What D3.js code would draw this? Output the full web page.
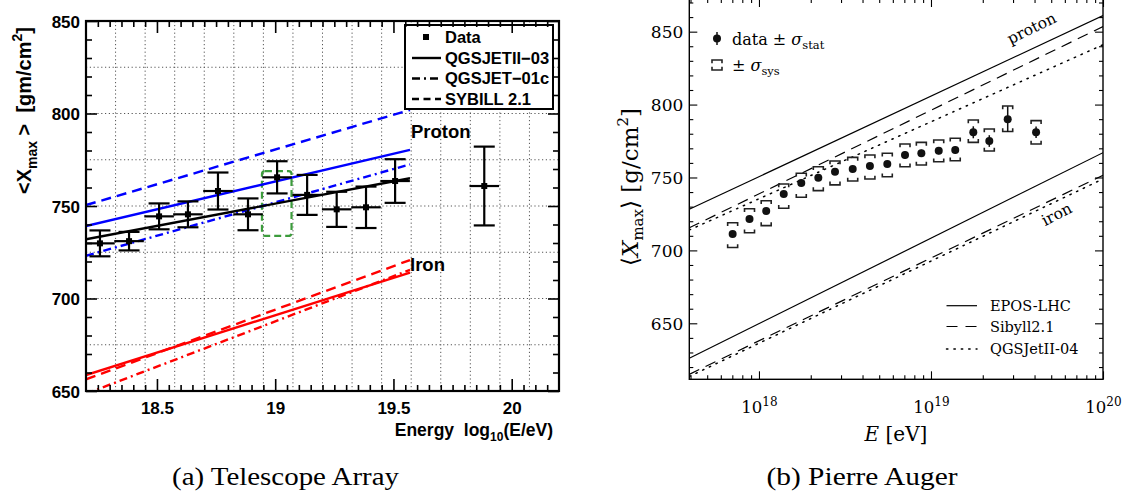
<!DOCTYPE html>
<html><head><meta charset="utf-8">
<script src="https://cdn.jsdelivr.net/npm/d3@7"></script>
<style>body{margin:0;background:#fff} text{white-space:pre}</style>
</head><body>
<svg id="c" width="1130" height="499" xmlns="http://www.w3.org/2000/svg"></svg>
<script>
// ---------------- DATA: (a) Telescope Array ----------------
const taLogE = [18.259, 18.382, 18.509, 18.631, 18.758, 18.885, 19.008, 19.135, 19.26, 19.384, 19.507, 19.884];
const taXmax = [729.8, 731, 744.4, 745.5, 758.1, 745.5, 765.5, 756, 748.2, 749.3, 763.5, 760.8];
const taErr  = [7, 5, 7, 7, 10, 8.6, 8.7, 10.8, 9.5, 11.2, 11.8, 21.3];
const taBinHalf = 0.0625;
const taModelE = [18.2, 19.57];
const taProtonQII = [739.2, 780.3];
const taProtonQ01 = [723.1, 772.5];
const taProtonSib = [750.5, 801.9];
const taIronQII = [658.6, 714];
const taIronQ01 = [648.5, 715.5];
const taIronSib = [656.3, 720.8];
const taFit = [732, 765];
const taBoxE = [18.944, 19.069];
const taBoxX = [733.8, 768.9];
const taXTicks = [18.5, 19, 19.5, 20];
const taYTicks = [650, 700, 750, 800, 850];
const taYGrid = [675, 700, 725, 750, 775, 800, 825];
const taLegend = ["Data", "QGSJETII\u221203", "QGSJET\u221201c", "SYBILL 2.1"];

// ---------------- DATA: (b) Pierre Auger ----------------
const augerLogE = [17.847, 17.945, 18.042, 18.144, 18.246, 18.345, 18.442, 18.545, 18.645, 18.746, 18.849, 18.944, 19.045, 19.141, 19.246, 19.339, 19.446, 19.611];
const augerXmax = [711.2, 721.5, 727, 738.7, 746.2, 749.9, 754, 755.8, 757.9, 759.3, 765.4, 766.6, 768.4, 768.9, 781, 775, 790, 781];
const augerStat = [2, 2, 2, 2, 2, 2, 2, 2, 2, 2, 2.5, 2.5, 2.5, 2.5, 4.1, 4, 8.8, 4];
const augerSysTop = [719, 728.6, 734, 745.5, 752.9, 757.4, 761.3, 763.8, 765.4, 766.6, 773, 774.1, 775.7, 776.9, 789.4, 783.3, 799, 789];
const augerSysBot = [702, 712.1, 717, 728.9, 736.4, 741, 744.9, 747.6, 749, 750.5, 757.4, 758.6, 760.8, 761.5, 774.1, 768.2, 781.5, 773];
const augerModelLogE = [17.595, 20];
const protonEPOS = [728.2, 861];
const protonSibyll = [715.5, 853.5];
const protonQGS = [714, 841];
const ironEPOS = [626, 767];
const ironSibyll = [615, 751.5];
const ironQGS = [613.5, 749];
const augerYTicks = [650, 700, 750, 800, 850];
const augerXTicks = [18, 19, 20];
const augerLegend = ["EPOS-LHC", "Sibyll2.1", "QGSJetII-04"];

// ---------------- DRAWING ----------------
const svg = d3.select("#c");
const defs = svg.append("defs");
const SANS = "'Liberation Sans', Arial, sans-serif";
const SERIF = "'DejaVu Serif', serif";
const CAP = "'Liberation Serif', serif";

// ===== Panel (a) =====
const xL = d3.scaleLinear().domain([18.2, 20.2]).range([86, 559]);
const yL = d3.scaleLinear().domain([650, 850]).range([391, 21]);
defs.append("clipPath").attr("id", "clipL").append("rect")
  .attr("x", xL(18.2)).attr("y", yL(850)).attr("width", xL(20.2) - xL(18.2)).attr("height", yL(650) - yL(850));
const gA = svg.append("g");

// grid
const gridX = d3.range(18.325, 20.1, 0.125);
gA.append("g").selectAll("line").data(gridX).join("line")
  .attr("x1", d => xL(d)).attr("x2", d => xL(d)).attr("y1", yL(650)).attr("y2", yL(850))
  .attr("stroke", "#555").attr("stroke-width", 1).attr("stroke-dasharray", "1.2,2.6");
gA.append("g").selectAll("line").data(taYGrid).join("line")
  .attr("y1", d => yL(d)).attr("y2", d => yL(d)).attr("x1", xL(18.2)).attr("x2", xL(20.2))
  .attr("stroke", "#555").attr("stroke-width", 1).attr("stroke-dasharray", "1.2,2.6");

// green box
gA.append("rect").attr("x", xL(taBoxE[0])).attr("y", yL(taBoxX[1]))
  .attr("width", xL(taBoxE[1]) - xL(taBoxE[0])).attr("height", yL(taBoxX[0]) - yL(taBoxX[1]))
  .attr("rx", 3).attr("fill", "none").attr("stroke", "#3c9c3c").attr("stroke-width", 2.2).attr("stroke-dasharray", "7,4");

const lineL = d3.line().x(d => xL(d[0])).y(d => yL(d[1]));
const dashes = {solid: null, dashdot: "8,4,2,4", dashed: "10,6"};
const modelsL = [
  [taProtonQII, "#0000ff", "solid"], [taProtonQ01, "#0000ff", "dashdot"], [taProtonSib, "#0000ff", "dashed"],
  [taIronQII, "#ff0000", "solid"], [taIronQ01, "#ff0000", "dashdot"], [taIronSib, "#ff0000", "dashed"],
  [taFit, "#000", "solid"]
];
const gLines = gA.append("g").attr("clip-path", "url(#clipL)");
modelsL.forEach(([vals, col, sty]) => {
  gLines.append("path").datum(taModelE.map((e, i) => [e, vals[i]]))
    .attr("d", lineL).attr("fill", "none").attr("stroke", col).attr("stroke-width", 2.4)
    .attr("stroke-dasharray", dashes[sty]);
});

// data points
const taPts = taLogE.map((e, i) => ({e, v: taXmax[i], s: taErr[i]}));
const gPts = gA.append("g").attr("stroke", "#000").attr("stroke-width", 2.2);
gPts.selectAll(".v").data(taPts).join("line")
  .attr("x1", d => xL(d.e)).attr("x2", d => xL(d.e)).attr("y1", d => yL(d.v - d.s)).attr("y2", d => yL(d.v + d.s));
gPts.selectAll(".h").data(taPts).join("line")
  .attr("x1", d => xL(d.e - taBinHalf)).attr("x2", d => xL(d.e + taBinHalf)).attr("y1", d => yL(d.v)).attr("y2", d => yL(d.v));
gPts.selectAll(".ct").data(taPts).join("line")
  .attr("x1", d => xL(d.e) - 10.5).attr("x2", d => xL(d.e) + 10.5).attr("y1", d => yL(d.v + d.s)).attr("y2", d => yL(d.v + d.s));
gPts.selectAll(".cb").data(taPts).join("line")
  .attr("x1", d => xL(d.e) - 10.5).attr("x2", d => xL(d.e) + 10.5).attr("y1", d => yL(d.v - d.s)).attr("y2", d => yL(d.v - d.s));
gA.append("g").selectAll("rect").data(taPts).join("rect")
  .attr("x", d => xL(d.e) - 3).attr("y", d => yL(d.v) - 3).attr("width", 6).attr("height", 6).attr("fill", "#000");

// legend
const lg = gA.append("g");
lg.append("rect").attr("x", 405).attr("y", 25).attr("width", 148).attr("height", 84)
  .attr("fill", "#fff").attr("stroke", "#000").attr("stroke-width", 2);
const legY = [37, 58, 78.5, 99];
lg.append("rect").attr("x", 423).attr("y", legY[0] - 3).attr("width", 6).attr("height", 6).attr("fill", "#000");
["solid", "dashdot", "dashed"].forEach((s, i) => {
  lg.append("line").attr("x1", 412).attr("x2", 441).attr("y1", legY[i + 1]).attr("y2", legY[i + 1])
    .attr("stroke", "#000").attr("stroke-width", 2.4).attr("stroke-dasharray", s === "dashed" ? "7,4.5" : dashes[s]);
});
lg.selectAll("text").data(taLegend).join("text")
  .attr("x", 445).attr("y", (d, i) => legY[i]).attr("dy", "0.36em")
  .attr("font-family", SANS).attr("font-weight", "bold").attr("font-size", 16.5).text(d => d);

// frame & ticks
function styleAxis(g) { g.select(".domain").remove(); g.selectAll(".tick line").attr("stroke", "#000").attr("stroke-width", 1.6); }
const minorXL = d3.range(18.25, 20.2, 0.05).filter(v => Math.abs(v * 2 - Math.round(v * 2)) > 1e-6);
const minorYL = d3.range(660, 850, 10).filter(v => v % 50 !== 0);
gA.append("g").attr("transform", `translate(0,${yL(650)})`)
  .call(d3.axisBottom(xL).tickValues(taXTicks).tickSize(-12).tickPadding(11).tickFormat(d3.format("")))
  .call(styleAxis).call(g => g.selectAll("text").attr("font-family", SANS).attr("font-weight", "bold").attr("font-size", 17).attr("fill", "#000"));
gA.append("g").attr("transform", `translate(0,${yL(650)})`)
  .call(d3.axisBottom(xL).tickValues(minorXL).tickSize(-6).tickFormat("")).call(styleAxis);
gA.append("g").attr("transform", `translate(0,${yL(850)})`)
  .call(d3.axisTop(xL).tickValues(taXTicks).tickSize(-12).tickFormat("")).call(styleAxis);
gA.append("g").attr("transform", `translate(0,${yL(850)})`)
  .call(d3.axisTop(xL).tickValues(minorXL).tickSize(-6).tickFormat("")).call(styleAxis);
gA.append("g").attr("transform", `translate(${xL(18.2)},0)`)
  .call(d3.axisLeft(yL).tickValues(taYTicks).tickSize(-11).tickPadding(6).tickFormat(d3.format("")))
  .call(styleAxis).call(g => g.selectAll("text").attr("font-family", SANS).attr("font-weight", "bold").attr("font-size", 17).attr("fill", "#000").attr("dy", "0.36em"));
gA.append("g").attr("transform", `translate(${xL(18.2)},0)`)
  .call(d3.axisLeft(yL).tickValues(minorYL).tickSize(-6).tickFormat("")).call(styleAxis);
gA.append("g").attr("transform", `translate(${xL(20.2)},0)`)
  .call(d3.axisRight(yL).tickValues(taYTicks).tickSize(-11).tickFormat("")).call(styleAxis);
gA.append("g").attr("transform", `translate(${xL(20.2)},0)`)
  .call(d3.axisRight(yL).tickValues(minorYL).tickSize(-6).tickFormat("")).call(styleAxis);
gA.append("rect").attr("x", xL(18.2)).attr("y", yL(850)).attr("width", xL(20.2) - xL(18.2)).attr("height", yL(650) - yL(850))
  .attr("fill", "none").attr("stroke", "#000").attr("stroke-width", 2.2);

// labels
gA.append("text").attr("x", xL(19.57) + 1).attr("y", 137.5).attr("font-family", SANS).attr("font-weight", "bold").attr("font-size", 18.5).text("Proton");
gA.append("text").attr("x", xL(19.57)).attr("y", 270.5).attr("font-family", SANS).attr("font-weight", "bold").attr("font-size", 18.5).text("Iron");
const xt = gA.append("text").attr("x", 553).attr("y", 436).attr("text-anchor", "end")
  .attr("font-family", SANS).attr("font-weight", "bold").attr("font-size", 17.5);
xt.append("tspan").text("Energy  log");
xt.append("tspan").attr("font-size", 12).attr("dy", 5).text("10");
xt.append("tspan").attr("dy", -5).text("(E/eV)");
const yt = gA.append("text").attr("transform", "translate(31,27) rotate(-90)").attr("text-anchor", "end")
  .attr("font-family", SANS).attr("font-weight", "bold").attr("font-size", 20);
yt.append("tspan").text("<X");
yt.append("tspan").attr("font-size", 14).attr("dy", 6).text("max");
yt.append("tspan").attr("dy", -6).text(" >  [gm/cm");
yt.append("tspan").attr("font-size", 14).attr("dy", -9).text("2");
yt.append("tspan").attr("dy", 9).text("]");

// caption
svg.append("text").attr("x", 285.5).attr("y", 485).attr("text-anchor", "middle")
  .attr("font-family", CAP).attr("font-size", 25).attr("textLength", 227).attr("lengthAdjust", "spacingAndGlyphs")
  .text("(a) Telescope Array");

// ===== Panel (b) =====
const xR = d3.scaleLog().domain([Math.pow(10, 17.595), 1e20]).range([689.3, 1103]);
const yR = d3.scaleLinear().domain([611.6, 872.4]).range([379.3, -1]);
defs.append("clipPath").attr("id", "clipR").append("rect")
  .attr("x", 689.3).attr("y", -1).attr("width", 1103 - 689.3).attr("height", 380.3);
const gB = svg.append("g");
const lineR = d3.line().x(d => xR(Math.pow(10, d[0]))).y(d => yR(d[1]));
const dashR = {solid: null, dashed: "11,7", dotted: "1.4,6"};
const modelsR = [
  [protonEPOS, "solid"], [protonSibyll, "dashed"], [protonQGS, "dotted"],
  [ironEPOS, "solid"], [ironSibyll, "dashed"], [ironQGS, "dotted"]
];
const gLR = gB.append("g").attr("clip-path", "url(#clipR)");
modelsR.forEach(([vals, sty]) => {
  gLR.append("path").datum(augerModelLogE.map((e, i) => [e, vals[i]]))
    .attr("d", lineR).attr("fill", "none").attr("stroke", "#000").attr("stroke-width", sty === "dotted" ? 1.5 : 1.2)
    .attr("stroke-dasharray", dashR[sty]).attr("stroke-linecap", sty === "dotted" ? "round" : "butt");
});

const aPts = augerLogE.map((e, i) => ({x: xR(Math.pow(10, e)), v: augerXmax[i], s: augerStat[i], t: augerSysTop[i], b: augerSysBot[i]}));
function bracket(x, yt, yb, w, h) {
  return `M${x - w},${yt + h}V${yt}H${x + w}V${yt + h}M${x - w},${yb - h}V${yb}H${x + w}V${yb - h}`;
}
gB.append("g").selectAll("path").data(aPts).join("path")
  .attr("d", d => bracket(d.x, yR(d.t), yR(d.b), 5, 3.3))
  .attr("fill", "none").attr("stroke", "#222").attr("stroke-width", 1.6);
gB.append("g").selectAll("line").data(aPts).join("line")
  .attr("x1", d => d.x).attr("x2", d => d.x).attr("y1", d => yR(d.v - d.s)).attr("y2", d => yR(d.v + d.s))
  .attr("stroke", "#111").attr("stroke-width", 1.5);
gB.append("g").selectAll("circle").data(aPts).join("circle")
  .attr("cx", d => d.x).attr("cy", d => yR(d.v)).attr("r", 4).attr("fill", "#111");

// axes (b)
function styleAxisR(g) { g.select(".domain").remove(); g.selectAll(".tick line").attr("stroke", "#000").attr("stroke-width", 1.1); }
const majorXR = augerXTicks.map(p => Math.pow(10, p));
const minorXR = [];
[17, 18, 19].forEach(p => { for (let m = 2; m <= 9; m++) { const v = m * Math.pow(10, p); if (v > xR.domain()[0]) minorXR.push(v); } });
const minorYR = d3.range(620, 872, 10).filter(v => v % 50 !== 0);
gB.append("g").attr("transform", "translate(0,379.3)")
  .call(d3.axisBottom(xR).tickValues(majorXR).tickSize(-8).tickPadding(22).tickFormat(""))
  .call(styleAxisR)
  .call(g => g.selectAll(".tick text").each(function(d) {
    const t = d3.select(this).attr("font-family", SERIF).attr("font-size", 16.5).attr("fill", "#000");
    t.append("tspan").text("10");
    t.append("tspan").attr("font-size", 12).attr("dy", "-0.55em").text(String(Math.round(Math.log10(d))));
  }));
gB.append("g").attr("transform", "translate(0,379.3)")
  .call(d3.axisBottom(xR).tickValues(minorXR).tickSize(-4).tickFormat("")).call(styleAxisR);
gB.append("g").attr("transform", "translate(0,-1)")
  .call(d3.axisTop(xR).tickValues(majorXR).tickSize(-8).tickFormat("")).call(styleAxisR);
gB.append("g").attr("transform", "translate(0,-1)")
  .call(d3.axisTop(xR).tickValues(minorXR).tickSize(-4).tickFormat("")).call(styleAxisR);
gB.append("g").attr("transform", "translate(689.3,0)")
  .call(d3.axisLeft(yR).tickValues(augerYTicks).tickSize(-8).tickPadding(6).tickFormat(d3.format("")))
  .call(styleAxisR).call(g => g.selectAll("text").attr("font-family", SERIF).attr("font-size", 17).attr("fill", "#000").attr("dy", "0.36em"));
gB.append("g").attr("transform", "translate(689.3,0)")
  .call(d3.axisLeft(yR).tickValues(minorYR).tickSize(-4).tickFormat("")).call(styleAxisR);
gB.append("g").attr("transform", "translate(1103,0)")
  .call(d3.axisRight(yR).tickValues(augerYTicks).tickSize(-8).tickFormat("")).call(styleAxisR);
gB.append("g").attr("transform", "translate(1103,0)")
  .call(d3.axisRight(yR).tickValues(minorYR).tickSize(-4).tickFormat("")).call(styleAxisR);
gB.append("rect").attr("x", 689.3).attr("y", -1).attr("width", 1103 - 689.3).attr("height", 380.3)
  .attr("fill", "none").attr("stroke", "#000").attr("stroke-width", 1.4);

// legends (b)
gB.append("circle").attr("cx", 717).attr("cy", 38.5).attr("r", 4).attr("fill", "#111");
gB.append("line").attr("x1", 717).attr("x2", 717).attr("y1", 32).attr("y2", 45).attr("stroke", "#111").attr("stroke-width", 1.5);
gB.append("path").attr("d", bracket(717, 60, 70, 5, 3.3)).attr("fill", "none").attr("stroke", "#222").attr("stroke-width", 1.6);
const l1 = gB.append("text").attr("x", 732).attr("y", 44.5).attr("font-family", SERIF).attr("font-size", 16);
l1.append("tspan").text("data \u00b1 ");
l1.append("tspan").attr("font-style", "italic").text("\u03c3");
l1.append("tspan").attr("font-size", 11.5).attr("dy", 4).text("stat");
const l2 = gB.append("text").attr("x", 732).attr("y", 70.5).attr("font-family", SERIF).attr("font-size", 16);
l2.append("tspan").text("\u00b1 ");
l2.append("tspan").attr("font-style", "italic").text("\u03c3");
l2.append("tspan").attr("font-size", 11.5).attr("dy", 4).text("sys");

const legYR = [305.7, 326.5, 349];
["solid", "dashed", "dotted"].forEach((s, i) => {
  gB.append("line").attr("x1", 946.5).attr("x2", 977).attr("y1", legYR[i]).attr("y2", legYR[i])
    .attr("stroke", "#000").attr("stroke-width", s === "dotted" ? 1.5 : 1.2)
    .attr("stroke-dasharray", s === "dashed" ? "11,8" : dashR[s]).attr("stroke-linecap", s === "dotted" ? "round" : "butt");
});
gB.selectAll(".lgt").data(augerLegend).join("text")
  .attr("x", 990).attr("y", (d, i) => legYR[i]).attr("dy", "0.36em")
  .attr("font-family", SERIF).attr("font-size", 14.5).text(d => d);

gB.append("text").attr("transform", "translate(1034,33) rotate(-26)").attr("text-anchor", "middle")
  .attr("font-family", SERIF).attr("font-size", 15.5).text("proton");
gB.append("text").attr("transform", "translate(1059,219) rotate(-27)").attr("text-anchor", "middle")
  .attr("font-family", SERIF).attr("font-size", 15.5).text("iron");

const xtR = gB.append("text").attr("x", 896).attr("y", 441).attr("text-anchor", "middle")
  .attr("font-family", SERIF).attr("font-size", 20);
xtR.append("tspan").attr("font-style", "italic").text("E");
xtR.append("tspan").text(" [eV]");
const ytR = gB.append("text").attr("transform", "translate(638,187) rotate(-90)").attr("text-anchor", "middle")
  .attr("font-family", SERIF).attr("font-size", 23);
ytR.append("tspan").text("\u27e8");
ytR.append("tspan").attr("font-style", "italic").text("X");
ytR.append("tspan").attr("font-size", 15).attr("dy", 5).text("max");
ytR.append("tspan").attr("dy", -5).text("\u27e9 [g/cm");
ytR.append("tspan").attr("font-size", 15).attr("dy", -10).text("2");
ytR.append("tspan").attr("dy", 10).text("]");

svg.append("text").attr("x", 862).attr("y", 485).attr("text-anchor", "middle")
  .attr("font-family", CAP).attr("font-size", 25).attr("textLength", 191).attr("lengthAdjust", "spacingAndGlyphs")
  .text("(b) Pierre Auger");
</script>
</body></html>
